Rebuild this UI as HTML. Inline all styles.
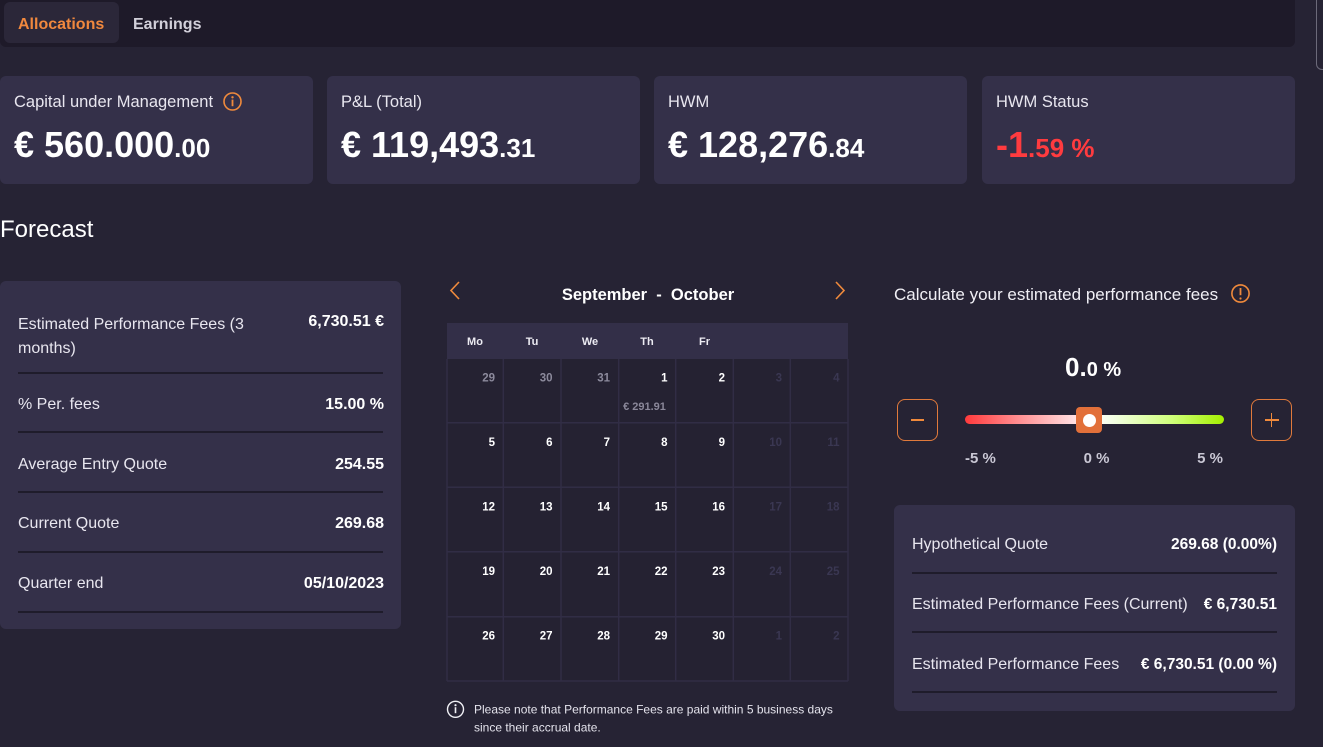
<!DOCTYPE html>
<html><head><meta charset="utf-8">
<style>
*{margin:0;padding:0;box-sizing:border-box}
html,body{width:1323px;height:747px;overflow:hidden;background:#262334;font-family:"Liberation Sans",sans-serif;color:#fff}
.a{position:absolute;white-space:nowrap}
.card{position:absolute;background:#343049;border-radius:6px}
.lbl{position:absolute;font-size:16.5px;line-height:20px;color:#e8e6ef}
.val{position:absolute;font-weight:bold;line-height:36px;font-size:36px;color:#fff}
.val small{font-size:26px}
.rl{position:absolute;font-size:16px;line-height:20px;color:#e8e6ef;white-space:nowrap}
.rv{position:absolute;font-size:16px;line-height:20px;font-weight:bold;color:#fff;white-space:nowrap;text-align:right}
.dv{position:absolute;height:2px;background:#1f1c2b}
.btn{position:absolute;width:41px;height:42px;border:1.5px solid #e07a3c;border-radius:8px}
.sl{position:absolute;font-size:15px;line-height:18px;font-weight:bold;color:#c9c7d4;white-space:nowrap}
</style></head><body>

<!-- top bar -->
<div class="a" style="left:0;top:0;width:1295px;height:47px;background:#1e1a29;border-radius:0 0 6px 6px"></div>
<div class="a" style="left:4px;top:2px;width:115px;height:41px;background:#2b2739;border-radius:6px"></div>
<div class="a" style="left:18px;top:15px;font-size:16px;line-height:20px;font-weight:bold;color:#f0883e">Allocations</div>
<div class="a" style="left:133px;top:15px;font-size:16px;line-height:20px;font-weight:bold;color:#d2d0da">Earnings</div>
<div class="a" style="left:1316px;top:-8px;width:14px;height:78px;border:1px solid #6c6a7a;border-radius:6px"></div>

<!-- KPI cards -->
<div class="card" style="left:0;top:76px;width:313px;height:108px"></div>
<div class="card" style="left:327px;top:76px;width:313px;height:108px"></div>
<div class="card" style="left:654px;top:76px;width:313px;height:108px"></div>
<div class="card" style="left:982px;top:76px;width:313px;height:108px"></div>

<div class="lbl a" style="left:14px;top:92px">Capital under Management</div>
<svg class="a" style="left:222px;top:91px" width="21" height="21" viewBox="0 0 21 21"><circle cx="10.5" cy="10.5" r="8.5" fill="none" stroke="#f08a3c" stroke-width="1.6"/><circle cx="10.5" cy="6.3" r="1.2" fill="#f08a3c"/><rect x="9.6" y="8.6" width="1.8" height="6.6" fill="#f08a3c"/></svg>
<div class="lbl a" style="left:341px;top:92px">P&amp;L (Total)</div>
<div class="lbl a" style="left:668px;top:92px">HWM</div>
<div class="lbl a" style="left:996px;top:92px">HWM Status</div>

<div class="val a" style="left:14px;top:127px">€ 560.000<small>.00</small></div>
<div class="val a" style="left:341px;top:127px">€ 119,493<small>.31</small></div>
<div class="val a" style="left:668px;top:127px">€ 128,276<small>.84</small></div>
<div class="val a" style="left:996px;top:127px;color:#ff3b3f">-1<small>.59 %</small></div>

<!-- Forecast -->
<div class="a" style="left:0;top:216px;font-size:24px;line-height:28px;color:#fff">Forecast</div>

<!-- left panel -->
<div class="card" style="left:0;top:281px;width:401px;height:348px"></div>
<div class="rl" style="left:18px;top:313px;line-height:24px">Estimated Performance Fees (3<br>months)</div>
<div class="rv" style="right:939px;top:312px">6,730.51 €</div>
<div class="dv" style="left:18px;top:372px;width:365px"></div>
<div class="rl" style="left:18px;top:395px">% Per. fees</div>
<div class="rv" style="right:939px;top:395px">15.00 %</div>
<div class="dv" style="left:18px;top:431px;width:365px"></div>
<div class="rl" style="left:18px;top:455px">Average Entry Quote</div>
<div class="rv" style="right:939px;top:455px">254.55</div>
<div class="dv" style="left:18px;top:491px;width:365px"></div>
<div class="rl" style="left:18px;top:514px">Current Quote</div>
<div class="rv" style="right:939px;top:514px">269.68</div>
<div class="dv" style="left:18px;top:551px;width:365px"></div>
<div class="rl" style="left:18px;top:574px">Quarter end</div>
<div class="rv" style="right:939px;top:574px">05/10/2023</div>
<div class="dv" style="left:18px;top:611px;width:365px"></div>

<!-- calendar -->
<svg class="a" style="left:0;top:0" width="1323" height="747" viewBox="0 0 1323 747" font-family="Liberation Sans, sans-serif">
  <polyline points="459,282 451,290.5 459,299" fill="none" stroke="#f08a3c" stroke-width="1.6"/>
  <polyline points="836,282 844,290.5 836,299" fill="none" stroke="#f08a3c" stroke-width="1.6"/>
  <text x="648" y="300" text-anchor="middle" font-size="16.5" font-weight="bold" fill="#fff" xml:space="preserve">September  -  October</text>
  <rect x="447" y="323" width="401" height="36" fill="#332f48"/>
  <rect x="447" y="359" width="401" height="322" fill="#252232"/>
  <g stroke="#312d45" stroke-width="1.5">
    <line x1="447" y1="359" x2="447" y2="681"/>
    <line x1="503.3" y1="359" x2="503.3" y2="681"/>
    <line x1="561" y1="359" x2="561" y2="681"/>
    <line x1="618.7" y1="359" x2="618.7" y2="681"/>
    <line x1="675.7" y1="359" x2="675.7" y2="681"/>
    <line x1="733.3" y1="359" x2="733.3" y2="681"/>
    <line x1="790.3" y1="359" x2="790.3" y2="681"/>
    <line x1="848" y1="359" x2="848" y2="681"/>
    <line x1="447" y1="422.7" x2="848" y2="422.7"/>
    <line x1="447" y1="487.3" x2="848" y2="487.3"/>
    <line x1="447" y1="551.7" x2="848" y2="551.7"/>
    <line x1="447" y1="616.7" x2="848" y2="616.7"/>
    <line x1="447" y1="681" x2="848" y2="681"/>
  </g>
  <g font-size="11" font-weight="bold" fill="#ecebf2" text-anchor="middle">
    <text x="475" y="345">Mo</text><text x="532" y="345">Tu</text><text x="590" y="345">We</text><text x="647" y="345">Th</text><text x="704.5" y="345">Fr</text>
  </g>
  <g font-size="11.5" font-weight="bold" text-anchor="end">
    <text x="495" y="381.5" fill="#8c8a9c">29</text><text x="552.5" y="381.5" fill="#8c8a9c">30</text><text x="610" y="381.5" fill="#8c8a9c">31</text>
    <text x="667.5" y="381.5" fill="#fff">1</text><text x="725" y="381.5" fill="#fff">2</text>
    <text x="782" y="381.5" fill="#3a3752">3</text><text x="839.5" y="381.5" fill="#3a3752">4</text>

    <text x="495" y="446" fill="#fff">5</text><text x="552.5" y="446" fill="#fff">6</text><text x="610" y="446" fill="#fff">7</text><text x="667.5" y="446" fill="#fff">8</text><text x="725" y="446" fill="#fff">9</text>
    <text x="782" y="446" fill="#3a3752">10</text><text x="839.5" y="446" fill="#3a3752">11</text>

    <text x="495" y="510.5" fill="#fff">12</text><text x="552.5" y="510.5" fill="#fff">13</text><text x="610" y="510.5" fill="#fff">14</text><text x="667.5" y="510.5" fill="#fff">15</text><text x="725" y="510.5" fill="#fff">16</text>
    <text x="782" y="510.5" fill="#3a3752">17</text><text x="839.5" y="510.5" fill="#3a3752">18</text>

    <text x="495" y="575" fill="#fff">19</text><text x="552.5" y="575" fill="#fff">20</text><text x="610" y="575" fill="#fff">21</text><text x="667.5" y="575" fill="#fff">22</text><text x="725" y="575" fill="#fff">23</text>
    <text x="782" y="575" fill="#3a3752">24</text><text x="839.5" y="575" fill="#3a3752">25</text>

    <text x="495" y="639.5" fill="#fff">26</text><text x="552.5" y="639.5" fill="#fff">27</text><text x="610" y="639.5" fill="#fff">28</text><text x="667.5" y="639.5" fill="#fff">29</text><text x="725" y="639.5" fill="#fff">30</text>
    <text x="782" y="639.5" fill="#3a3752">1</text><text x="839.5" y="639.5" fill="#3a3752">2</text>
  </g>
  <text x="644.5" y="410" text-anchor="middle" font-size="11" font-weight="bold" fill="#8a8799">€ 291.91</text>

  <!-- note icon -->
  <circle cx="455.5" cy="709.3" r="8" fill="none" stroke="#f0f0f5" stroke-width="1.4"/>
  <circle cx="455.5" cy="705.2" r="1.1" fill="#f0f0f5"/>
  <rect x="454.7" y="707.2" width="1.6" height="6" fill="#f0f0f5"/>
  <text x="474" y="713.5" font-size="12" fill="#e4e3ec">Please note that Performance Fees are paid within 5 business days</text>
  <text x="474" y="731.5" font-size="12" fill="#e4e3ec">since their accrual date.</text>

  <!-- exclamation icon -->
  <circle cx="1240.5" cy="293.5" r="8.6" fill="none" stroke="#f08a3c" stroke-width="1.6"/>
  <rect x="1239.6" y="288" width="1.8" height="7.2" fill="#f08a3c"/>
  <circle cx="1240.5" cy="298.5" r="1.1" fill="#f08a3c"/>
</svg>

<!-- right section -->
<div class="a" style="left:894px;top:285px;font-size:17px;line-height:20px;color:#f0eff5">Calculate your estimated performance fees</div>
<div class="a" style="left:1065px;top:354px;font-weight:bold;font-size:26px;line-height:26px;color:#fff">0.<span style="font-size:20px">0 %</span></div>

<div class="btn" style="left:897px;top:399px"><div class="a" style="left:13px;top:19px;width:13px;height:1.6px;background:#f08a3c"></div></div>
<div class="btn" style="left:1251px;top:399px"><div class="a" style="left:12.5px;top:19px;width:14px;height:1.6px;background:#f08a3c"></div><div class="a" style="left:18.7px;top:12.8px;width:1.6px;height:14px;background:#f08a3c"></div></div>

<div class="a" style="left:965px;top:415px;width:259px;height:9px;border-radius:5px;background:linear-gradient(to right,#ff3a3c 0%,#ff8c8f 20%,#ffd6d8 40%,#ffffff 50%,#f2ffe0 58%,#cfff7a 80%,#a4ef00 100%)"></div>
<div class="a" style="left:1076px;top:407px;width:26px;height:26px;background:#e2703a;border-radius:4px"><div class="a" style="left:6.5px;top:6.5px;width:13px;height:13px;border-radius:50%;background:#fff"></div></div>

<div class="sl" style="left:965px;top:450px">-5 %</div>
<div class="sl" style="left:1070px;top:450px;width:53px;text-align:center">0 %</div>
<div class="sl" style="left:1180px;top:450px;width:43px;text-align:right">5 %</div>

<div class="card" style="left:894px;top:505px;width:401px;height:206px"></div>
<div class="rl" style="left:912px;top:535px">Hypothetical Quote</div>
<div class="rv" style="right:46px;top:535px;font-size:15.5px">269.68 (0.00%)</div>
<div class="dv" style="left:912px;top:572px;width:365px"></div>
<div class="rl" style="left:912px;top:595px">Estimated Performance Fees (Current)</div>
<div class="rv" style="right:46px;top:595px;font-size:15.5px">€ 6,730.51</div>
<div class="dv" style="left:912px;top:631px;width:365px"></div>
<div class="rl" style="left:912px;top:655px">Estimated Performance Fees</div>
<div class="rv" style="right:46px;top:655px;font-size:15.5px">€ 6,730.51 (0.00 %)</div>
<div class="dv" style="left:912px;top:691px;width:365px"></div>

</body></html>
